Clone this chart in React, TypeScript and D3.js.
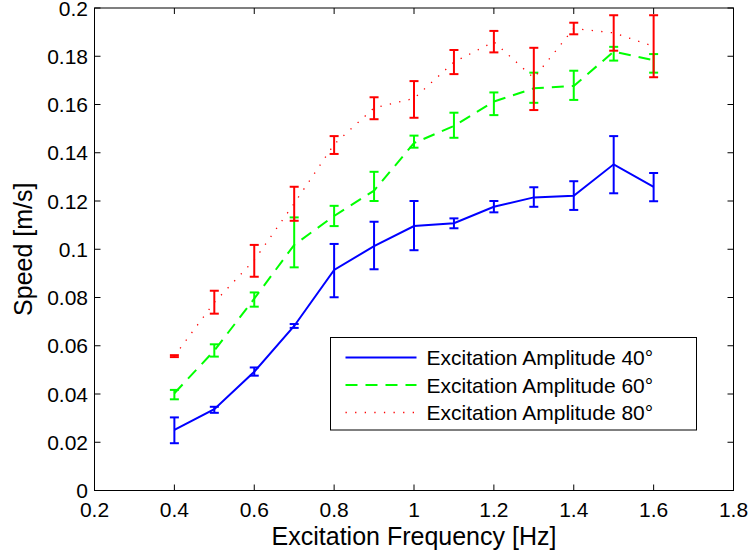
import React from "react";
import * as d3 from "d3";

const freqs = [0.4, 0.5, 0.6, 0.7, 0.8, 0.9, 1.0, 1.1, 1.2, 1.3, 1.4, 1.5, 1.6];

const amp40 = [0.0251, 0.0337, 0.0492, 0.0682, 0.0914, 0.1013, 0.1096, 0.1108, 0.1176, 0.1215, 0.1222, 0.1352, 0.1259];
const amp40Lo = [0.0196, 0.0322, 0.0476, 0.0674, 0.0801, 0.0917, 0.0996, 0.1087, 0.1153, 0.1176, 0.1163, 0.1232, 0.1199];
const amp40Hi = [0.0303, 0.0347, 0.051, 0.069, 0.1022, 0.1114, 0.12, 0.1128, 0.12, 0.1257, 0.1282, 0.1469, 0.1316];

const amp60 = [0.0403, 0.058, 0.0795, 0.1018, 0.1138, 0.1243, 0.144, 0.1511, 0.1612, 0.1667, 0.1677, 0.1819, 0.1784];
const amp60Lo = [0.0378, 0.0555, 0.0762, 0.0925, 0.1096, 0.12, 0.1421, 0.1462, 0.1556, 0.1607, 0.1619, 0.1782, 0.1732];
const amp60Hi = [0.0417, 0.0606, 0.0821, 0.1132, 0.118, 0.1321, 0.1471, 0.1566, 0.165, 0.1732, 0.174, 0.1839, 0.1809];

const amp80 = [0.0557, 0.078, 0.0955, 0.119, 0.1435, 0.1586, 0.1625, 0.1776, 0.186, 0.171, 0.1915, 0.1897, 0.1841];
const amp80Lo = [0.0553, 0.0733, 0.0886, 0.1118, 0.1395, 0.1539, 0.1545, 0.1726, 0.1816, 0.1577, 0.1891, 0.1823, 0.1713];
const amp80Hi = [0.0561, 0.0828, 0.1018, 0.1259, 0.1469, 0.163, 0.1697, 0.1826, 0.1905, 0.1835, 0.1939, 0.197, 0.197];

const xTicks = [0.2, 0.4, 0.6, 0.8, 1.0, 1.2, 1.4, 1.6, 1.8];
const yTicks = [0, 0.02, 0.04, 0.06, 0.08, 0.1, 0.12, 0.14, 0.16, 0.18, 0.2];

const seriesNames = ["Excitation Amplitude 40°", "Excitation Amplitude 60°", "Excitation Amplitude 80°"];
const seriesColors = ["#0000ff", "#00ff00", "#ff0000"];

const W = 748;
const H = 556;
const L = 94.5, R = 733.5, T = 8, B = 490.5;
const FONT = "'Liberation Sans', Arial, Helvetica, sans-serif";

export default function App() {
  const x = d3.scaleLinear().domain([0.2, 1.8]).range([L, R]);
  const y = d3.scaleLinear().domain([0, 0.2]).range([B, T]);
  const line = d3
    .line<number>()
    .x((_, i) => x(freqs[i]))
    .y((d) => y(d));

  const series = [
    { vals: amp40, lo: amp40Lo, hi: amp40Hi, dash: undefined as string | undefined, width: 2, color: seriesColors[0] },
    { vals: amp60, lo: amp60Lo, hi: amp60Hi, dash: "12 8", width: 2, color: seriesColors[1] },
    { vals: amp80, lo: amp80Lo, hi: amp80Hi, dash: "1.3 8.3", width: 1.3, color: seriesColors[2] },
  ];
  const cap = 4.5;
  const fmt = (v: number) => (v === 0 ? "0" : String(+v.toFixed(2)));

  const legX = 330.5, legY = 337.5, legW = 366, legH = 92.5;
  const rowY = [357.5, 385, 412.5];

  return (
    <svg width={W} height={H} style={{ position: "absolute", left: 0, top: 0, background: "#fff" }} fontFamily={FONT}>
      <rect x={0} y={0} width={W} height={H} fill="#fff" />
      {series.map((s, si) => (
        <g key={si}>
          <path d={line(s.vals) || ""} fill="none" stroke={s.color} strokeWidth={s.width} strokeDasharray={s.dash} />
          {freqs.map((f, i) => (
            <g key={i} stroke={s.color} strokeWidth={2}>
              <line x1={x(f)} x2={x(f)} y1={y(s.lo[i])} y2={y(s.hi[i])} />
              <line x1={x(f) - cap} x2={x(f) + cap} y1={y(s.lo[i])} y2={y(s.lo[i])} />
              <line x1={x(f) - cap} x2={x(f) + cap} y1={y(s.hi[i])} y2={y(s.hi[i])} />
            </g>
          ))}
        </g>
      ))}
      <g stroke="#000" strokeWidth={1}>
        <rect x={L} y={T} width={R - L} height={B - T} fill="none" />
        {xTicks.map((t, i) => (
          <g key={i}>
            <line x1={x(t)} x2={x(t)} y1={B} y2={B - 6} />
            <line x1={x(t)} x2={x(t)} y1={T} y2={T + 6} />
          </g>
        ))}
        {yTicks.map((t, i) => (
          <g key={i}>
            <line x1={L} x2={L + 6} y1={y(t)} y2={y(t)} />
            <line x1={R} x2={R - 6} y1={y(t)} y2={y(t)} />
          </g>
        ))}
      </g>
      <g fontSize={21} fill="#000">
        {xTicks.map((t, i) => (
          <text key={i} x={x(t)} y={517} textAnchor="middle">
            {fmt(t)}
          </text>
        ))}
        {yTicks.map((t, i) => (
          <text key={i} x={88} y={y(t) + 7.5} textAnchor="end">
            {fmt(t)}
          </text>
        ))}
      </g>
      <text x={(L + R) / 2} y={545} fontSize={25} textAnchor="middle" fill="#000">
        Excitation Frequency [Hz]
      </text>
      <text transform={`translate(32,${(T + B) / 2}) rotate(-90)`} fontSize={25} textAnchor="middle" fill="#000">
        Speed [m/s]
      </text>
      <g>
        <rect x={legX} y={legY} width={legW} height={legH} fill="#fff" stroke="#000" strokeWidth={1} />
        {series.map((s, si) => (
          <g key={si}>
            <line x1={345.5} x2={416.5} y1={rowY[si]} y2={rowY[si]} stroke={s.color} strokeWidth={s.width} strokeDasharray={s.dash} />
            <text x={426.5} y={rowY[si] + 7.5} fontSize={21} fill="#000">
              {seriesNames[si]}
            </text>
          </g>
        ))}
      </g>
    </svg>
  );
}
